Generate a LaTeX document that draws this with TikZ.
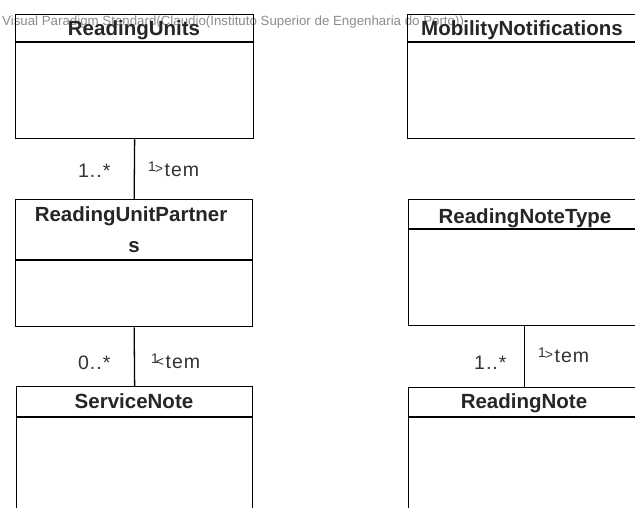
\documentclass[tikz,border=0pt]{standalone}
\usepackage{fontspec}
\setmainfont{Liberation Sans}
\newfontfamily\lblfont[LetterSpace=5]{Liberation Sans}
\begin{document}
\begin{tikzpicture}[x=1pt,y=-1pt,
  umlbox/.style={draw=black,line width=1.3pt,rectangle,inner sep=0pt,anchor=north west},
  title/.style={inner sep=0pt,anchor=base,font=\bfseries\fontsize{20.5}{24}\selectfont,text=black!85,align=center},
  lbl/.style={inner sep=0pt,anchor=base west,font=\lblfont\fontsize{19.5}{21}\selectfont,text=black!80},
  conn/.style={draw=black,line width=1.3pt},
  wm/.style={inner sep=0pt,anchor=base west,font=\fontsize{13.3}{15}\selectfont,text=black!45}]
\useasboundingbox (0,0) rectangle (635,508);
\clip (0,0) rectangle (635,508);
\fill[white] (0,0) rectangle (635,508);
% watermark
\node[wm] (wmark) at (2,26) {Visual Paradigm Standard(Claudio(Instituto Superior de Engenharia do Porto))};
% boxes
\node[umlbox,minimum width=238pt,minimum height=124pt] (ru) at (15,14) {};
\node[umlbox,minimum width=234pt,minimum height=124pt] (mn) at (407,14) {};
\node[umlbox,minimum width=237pt,minimum height=127pt] (rup) at (15,199) {};
\node[umlbox,minimum width=232pt,minimum height=126pt] (rnt) at (408,199) {};
\node[umlbox,minimum width=236pt,minimum height=140pt] (sn) at (16,386) {};
\node[umlbox,minimum width=232pt,minimum height=140pt] (rn) at (408,387) {};
% header separators
\draw[conn] ([yshift=-28pt]ru.north west) -- ([yshift=-28pt]ru.north east);
\draw[conn] ([yshift=-28pt]mn.north west) -- ([yshift=-28pt]mn.north east);
\draw[conn] ([yshift=-61pt]rup.north west) -- ([yshift=-61pt]rup.north east);
\draw[conn] ([yshift=-30pt]rnt.north west) -- ([yshift=-30pt]rnt.north east);
\draw[conn] ([yshift=-31pt]sn.north west) -- ([yshift=-31pt]sn.north east);
\draw[conn] ([yshift=-30pt]rn.north west) -- ([yshift=-30pt]rn.north east);
% titles
\node[title] (tru) at (134,36) {ReadingUnits};
\node[title] (tmn) at (522,36) {MobilityNotifications};
\node[title] (trup) at (131,222) {ReadingUnitPartner};
\node[title] (trup2) at (134,252) {s};
\node[title] (trnt) at (525,223) {ReadingNoteType};
\node[title] (tsn) at (134,408) {ServiceNote};
\node[title] (trn) at (524,408) {ReadingNote};
% connectors
\draw[conn] (ru.south) -- (rup.north);
\draw[conn] (rup.south) -- (sn.north);
\draw[conn] (rnt.south) -- (rn.north);
% labels
\node[lbl] (m1) at (78,178) {1..*};
\node[lbl] (a1) at (148,177) {{\fontsize{14}{14}\selectfont\raisebox{5pt}{1}\kern-1pt\raisebox{3pt}{>}}\kern1.5pt tem};
\node[lbl] (m2) at (78,369) {0..*};
\node[lbl] (a2) at (151,368) {{\fontsize{14}{14}\selectfont\raisebox{5pt}{1}\kern-3pt\raisebox{2pt}{<}}\kern1.5pt tem};
\node[lbl] (m3) at (474,369) {1..*};
\node[lbl] (a3) at (538,362) {{\fontsize{14}{14}\selectfont\raisebox{5pt}{1}\kern-1pt\raisebox{3pt}{>}}\kern1.5pt tem};
\end{tikzpicture}
\end{document}
